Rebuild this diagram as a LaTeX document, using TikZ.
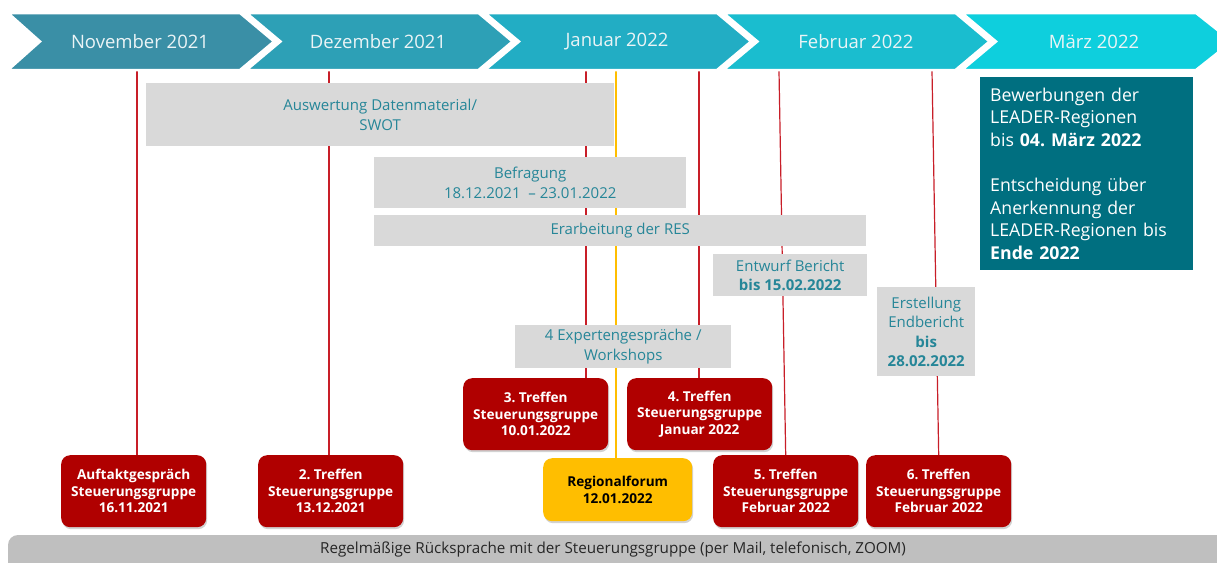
\documentclass[tikz,border=0pt]{standalone}
\usepackage{fontspec}
\setmainfont{Open Sans}
\usetikzlibrary{shadows,backgrounds}
\frenchspacing
\definecolor{cNov}{RGB}{58,143,166}
\definecolor{cDez}{RGB}{45,160,182}
\definecolor{cJan}{RGB}{34,173,196}
\definecolor{cFeb}{RGB}{26,189,207}
\definecolor{cMar}{RGB}{14,207,221}
\definecolor{monthtext}{RGB}{235,244,246}
\definecolor{graybg}{RGB}{217,217,217}
\definecolor{graytext}{RGB}{38,134,152}
\definecolor{tealbox}{RGB}{0,111,128}
\definecolor{redbox}{RGB}{176,0,0}
\definecolor{redln}{RGB}{200,30,40}
\definecolor{yellowbox}{RGB}{255,190,0}
\definecolor{barbg}{RGB}{191,191,191}
\begin{document}
\frenchspacing
\begin{tikzpicture}[x=1pt,y=-1pt,
  chev/.style={draw=white,line width=2.5pt,line join=miter},
  month/.style={text=monthtext,font=\fontsize{18.5}{22}\selectfont},
  graybox/.style={fill=graybg,inner sep=0pt,text=graytext,align=center,anchor=north west,
    font=\fontsize{15}{19.5}\selectfont},
  redbx/.style={fill=redbox,rounded corners=9pt,text=white,align=center,anchor=north west,
    inner sep=0pt,minimum width=145pt,minimum height=72pt,
    font=\bfseries\fontsize{13.6}{16.5}\selectfont,
    drop shadow={opacity=0.35,shadow xshift=1pt,shadow yshift=-2pt}},
  redline/.style={draw=redln,line width=1.2pt},
  yelline/.style={draw=yellowbox,line width=1.2pt}]
\useasboundingbox (0,0) rectangle (1217,562);
\clip (0,0) rectangle (1217,562);

% chevrons
\fill[cNov,chev] (8,13) -- (240,13) -- (274,41.5) -- (240,70) -- (8,70) -- (40,41.5) -- cycle;
\fill[cDez,chev] (246.5,13) -- (478.5,13) -- (512.5,41.5) -- (478.5,70) -- (246.5,70) -- (280.5,41.5) -- cycle;
\fill[cJan,chev] (485,13) -- (717,13) -- (751,41.5) -- (717,70) -- (485,70) -- (519,41.5) -- cycle;
\fill[cFeb,chev] (723.5,13) -- (955.5,13) -- (989.5,41.5) -- (955.5,70) -- (723.5,70) -- (757.5,41.5) -- cycle;
\fill[cMar,chev] (962,13) -- (1196,13) -- (1232,41.5) -- (1196,70) -- (962,70) -- (996,41.5) -- cycle;

\node[month] (mNov) at (140,42) {November 2021};
\node[month] (mDez) at (378,42) {Dezember 2021};
\node[month] (mJan) at (617,42) {Januar 2022};
\node[month] (mFeb) at (856,42) {Februar 2022};
\node[month] (mMar) at (1094,42) {März 2022};

% gray boxes
\node[graybox,minimum width=468pt,minimum height=63pt] (ausw) at (146,83) {Auswertung Datenmaterial/\\SWOT};
\node[graybox,minimum width=312pt,minimum height=51pt] (befr) at (374,157) {Befragung\\18.12.2021\ \ – 23.01.2022};
\node[graybox,minimum width=492pt,minimum height=31pt] (erarb) at (374,215) {Erarbeitung der RES};
\node[graybox,minimum width=154pt,minimum height=42pt] (entw) at (713,254) {Entwurf Bericht\\\textbf{bis 15.02.2022}};
\node[graybox,minimum width=98pt,minimum height=89pt] (erst) at (877,287) {Erstellung\\Endbericht\\\textbf{bis}\\\textbf{28.02.2022}};
\node[graybox,minimum width=216pt,minimum height=43pt] (exp) at (515,325) {4 Expertengespräche /\\Workshops};

% teal box
\node[fill=tealbox,text=white,anchor=north west,minimum width=213pt,minimum height=193pt,
  inner xsep=10pt,inner ysep=0pt,text width=193pt,align=left,
  font=\fontsize{17.7}{22.6}\selectfont] (info) at (980,77)
  {Bewerbungen der\\LEADER-Regionen\\bis \textbf{04. März 2022}\\[22.6pt]Entscheidung über\\Anerkennung der\\LEADER-Regionen bis\\\textbf{Ende 2022}};

% red boxes
\node[redbx] (auf) at (61,455) {Auftaktgespräch\\Steuerungsgruppe\\16.11.2021};
\node[redbx] (tr2) at (258,455) {2. Treffen\\Steuerungsgruppe\\13.12.2021};
\node[redbx] (tr3) at (463,378) {3. Treffen\\Steuerungsgruppe\\10.01.2022};
\node[redbx] (tr4) at (627,378) {4. Treffen\\Steuerungsgruppe\\Januar 2022};
\node[redbx,fill=yellowbox,text=black,minimum width=149pt,minimum height=63pt] (rf) at (543,458) {Regionalforum\\12.01.2022};
\node[redbx] (tr5) at (713,455) {5. Treffen\\Steuerungsgruppe\\Februar 2022};
\node[redbx] (tr6) at (866,455) {6. Treffen\\Steuerungsgruppe\\Februar 2022};

% bottom bar
\fill[barbg,rounded corners=10pt] (8,580) -- (8,535) -- (1217,535) -- (1240,535) -- (1240,580) -- cycle;
\node[font=\fontsize{15.2}{18}\selectfont,text=black!85] (bar) at (613,550) {Regelmäßige Rücksprache mit der Steuerungsgruppe (per Mail, telefonisch, ZOOM)};

% vertical lines
\coordinate (l1) at (137,71);
\coordinate (l2) at (329,71);
\coordinate (l3) at (586,71);
\coordinate (l4) at (616,71);
\coordinate (l5) at (699,71);
\coordinate (l6) at (779,71);
\coordinate (l7) at (932,71);
\begin{scope}[on background layer]
\fill[white] (0,0) rectangle (1217,562);
\draw[redline] (l1) -- (l1 |- auf.north);
\draw[redline] (l2) -- (l2 |- tr2.north);
\draw[redline] (l3) -- (l3 |- tr3.north);
\draw[yelline] (l4) -- (l4 |- rf.north);
\draw[redline] (l5) -- (l5 |- tr4.north);
\draw[redline] (l6) -- (tr5.north);
\draw[redline] (l7) -- (tr6.north);
\end{scope}
\end{tikzpicture}
\end{document}
